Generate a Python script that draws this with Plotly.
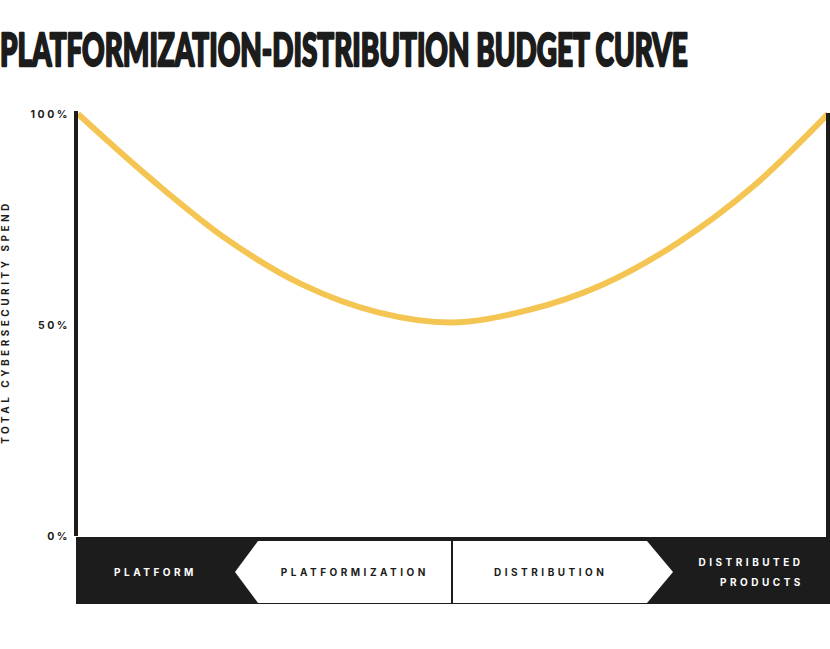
import plotly.graph_objects as go

# ---- data ----
spectrum_x = [0.0, 0.1, 0.2, 0.3, 0.4, 0.5, 0.6, 0.7, 0.8, 0.9, 1.0]
spend_pct = [100, 84.2, 70.1, 59.5, 53.0, 50.6, 53.5, 59.6, 69.5, 82.8, 100]
y_tick_vals = [0, 50, 100]
y_tick_text = ["0%", "50%", "100%"]
title_text = "PLATFORMIZATION-DISTRIBUTION BUDGET CURVE"
y_title = "TOTAL CYBERSECURITY SPEND"
stage_labels = ["PLATFORM", "PLATFORMIZATION", "DISTRIBUTION", "DISTRIBUTED", "PRODUCTS"]

W, H = 830, 649
ML, MR, MT, MB = 78, 2, 111, 113
PW, PH = W - ML - MR, H - MT - MB
DARK = "#1c1c1c"
YELLOW = "#F4C552"
LABEL_FONT = "Inter, Roboto, 'DejaVu Sans', sans-serif"


def px(x):
    return (x - ML) / PW


def py(y):
    return (H - MB - y) / PH


fig = go.Figure()
fig.add_trace(go.Scatter(
    x=spectrum_x, y=spend_pct, mode="lines",
    line=dict(color=YELLOW, width=6, shape="spline", smoothing=1.0),
    hoverinfo="skip", showlegend=False,
))

shapes = []
# dark bar under chart
shapes.append(dict(type="rect", xref="paper", yref="paper",
                   x0=px(76), x1=px(831), y0=py(537), y1=py(604),
                   fillcolor=DARK, line=dict(width=0), layer="above"))
# platformization arrow (points left)
p = [(235, 572), (258, 541), (451, 541), (451, 603), (258, 603)]
shapes.append(dict(type="path", xref="paper", yref="paper",
                   path="M " + " L ".join(f"{px(a):.5f},{py(b):.5f}" for a, b in p) + " Z",
                   fillcolor="white", line=dict(width=0), layer="above"))
# distribution arrow (points right)
d = [(453, 541), (647, 541), (673, 572), (647, 603), (453, 603)]
shapes.append(dict(type="path", xref="paper", yref="paper",
                   path="M " + " L ".join(f"{px(a):.5f},{py(b):.5f}" for a, b in d) + " Z",
                   fillcolor="white", line=dict(width=0), layer="above"))
# right border line
shapes.append(dict(type="line", xref="paper", yref="paper",
                   x0=px(828), x1=px(828), y0=py(113), y1=py(540),
                   line=dict(color=DARK, width=4), layer="above"))

ann_font = dict(family=LABEL_FONT, size=10, color=DARK, weight=700)
annotations = [
    dict(text=stage_labels[0], x=px(155), y=py(572), xref="paper", yref="paper",
         showarrow=False, font=dict(ann_font, color="white"), xanchor="center", yanchor="middle"),
    dict(text=stage_labels[1], x=px(355), y=py(572), xref="paper", yref="paper",
         showarrow=False, font=ann_font, xanchor="center", yanchor="middle"),
    dict(text=stage_labels[2], x=px(550), y=py(572), xref="paper", yref="paper",
         showarrow=False, font=ann_font, xanchor="center", yanchor="middle"),
    dict(text=stage_labels[3], x=px(806), y=py(562), xref="paper", yref="paper",
         showarrow=False, font=dict(ann_font, color="white"), xanchor="right", align="right",
         yanchor="middle"),
    dict(text=stage_labels[4], x=px(806), y=py(582), xref="paper", yref="paper",
         showarrow=False, font=dict(ann_font, color="white"), xanchor="right", align="right",
         yanchor="middle"),
    dict(text=y_title, x=px(5), y=py(322), xref="paper", yref="paper", textangle=-90,
         showarrow=False, font=dict(ann_font, size=10), xanchor="center", yanchor="middle"),
]

fig.update_layout(
    width=W, height=H,
    margin=dict(l=ML, r=MR, t=MT, b=MB, pad=0),
    paper_bgcolor="white", plot_bgcolor="white",
    title=dict(text=title_text, x=0, xref="container", xanchor="left",
               y=1 - 49.5 / H, yref="container", yanchor="middle", pad=dict(l=0, r=0, t=0, b=0),
               font=dict(family="Lato, 'DejaVu Sans', sans-serif", size=46, color=DARK, weight=900)),
    xaxis=dict(range=[0, 1], visible=False, fixedrange=True),
    yaxis=dict(range=[0, 100.7], tickvals=y_tick_vals, ticktext=y_tick_text,
               showgrid=False, zeroline=False, showline=True, linewidth=4, linecolor=DARK,
               ticks="", ticklabelstandoff=2,
               tickfont=dict(family=LABEL_FONT, size=10.5, color=DARK, weight=700)),
    shapes=shapes, annotations=annotations, showlegend=False,
)

post = """
document.body.style.margin = '0';
document.body.style.padding = '0';
var gd = document.getElementById('{plot_id}');
var st = document.createElement('style');
st.textContent = '.annotation-text{letter-spacing:3.5px} .ytick text{letter-spacing:2.5px}';
document.head.appendChild(st);
var t = gd.querySelector('.gtitle');
if (t) {
  t.style.stroke = '#1c1c1c';
  t.style.strokeWidth = '2.4px';
  t.style.strokeLinejoin = 'round';
  var bb = t.getBBox();
  var s = 688 / bb.width;
  var x0 = bb.x;
  var tr = t.getAttribute('transform') || '';
  t.setAttribute('transform', tr + ' translate(' + x0 + ',0) scale(' + s + ',1) translate(' + (-x0) + ',0)');
}
"""

fig.write_html("out.html", post_script=post, config={"displayModeBar": False})
